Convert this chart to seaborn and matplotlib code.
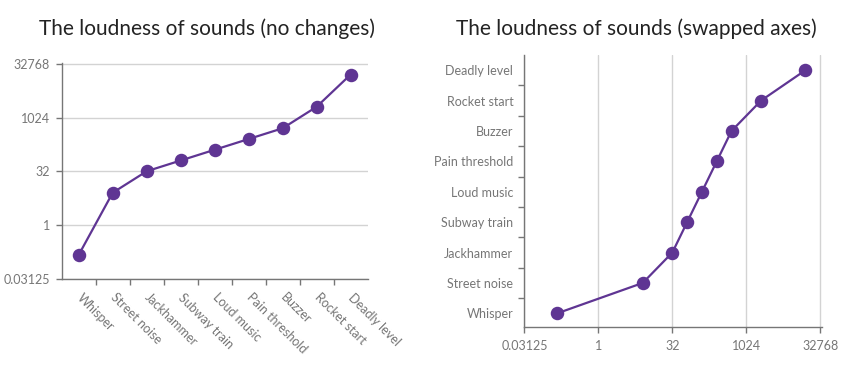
import numpy as np
import pandas as pd
import seaborn as sns
import matplotlib.pyplot as plt

sounds = ['Whisper', 'Street noise', 'Jackhammer', 'Subway train', 'Loud music',
          'Pain threshold', 'Buzzer', 'Rocket start', 'Deadly level']
loudness = [0.145, 8, 32, 64, 128, 256, 512, 2048, 16384]
log_ticks = [0.03125, 1, 32, 1024, 32768]
log_labels = ['0.03125', '1', '32', '1024', '32768']

LINE = '#5f3593'
GRAY = '#767676'
GRID = '#d3d3d3'

sns.set_style('white')
plt.rcParams['font.family'] = ['Lato', 'DejaVu Sans']

df = pd.DataFrame({'sound': sounds, 'value': loudness})

fig = plt.figure(figsize=(8.57, 3.89), dpi=100)
ax1 = fig.add_axes([0.072, 0.2835, 0.357, 0.5545])
ax2 = fig.add_axes([0.612, 0.1594, 0.347, 0.6992])


def style_axes(ax):
    for side in ['top', 'right']:
        ax.spines[side].set_visible(False)
    for side in ['left', 'bottom']:
        ax.spines[side].set_color(GRAY)
        ax.spines[side].set_linewidth(1)
    ax.tick_params(which='both', bottom=True, left=True, colors=GRAY,
                   labelcolor=GRAY, labelsize=9, length=4.5, width=1)


# no changes: sounds along x, loudness on a log2 y axis
ax1.set_yscale('log', base=2)
sns.pointplot(data=df, x='sound', y='value', color=LINE, markersize=8.5,
              linewidth=1.6, ax=ax1)
ax1.set_ylim(0.03125, 32768 * 1.05)
ax1.set_xlim(-0.5, len(sounds) - 0.5)
ax1.set_yticks(log_ticks, log_labels)
ax1.yaxis.set_minor_locator(plt.NullLocator())
ax1.set_xticks(np.arange(len(sounds)), sounds)
ax1.set_xticks(np.arange(len(sounds) - 1) + 0.5, minor=True)
style_axes(ax1)
ax1.tick_params(axis='x', which='major', length=0, pad=12)
ax1.tick_params(axis='y', pad=4)
for lbl in ax1.get_xticklabels():
    lbl.set_rotation(-45)
    lbl.set_ha('left')
    lbl.set_va('center')
    lbl.set_rotation_mode('anchor')
ax1.grid(axis='y', color=GRID, linewidth=1)
ax1.set_axisbelow(True)
ax1.set_xlabel('')
ax1.set_ylabel('')

# swapped axes: loudness on a log2 x axis, sounds along y
ax2.set_xscale('log', base=2)
sns.pointplot(data=df, x='value', y='sound', orient='h', color=LINE,
              markersize=8.5, linewidth=1.6, ax=ax2)
ax2.set_xlim(0.03125, 32768 * 1.08)
ax2.set_ylim(-0.45, len(sounds) - 0.5)
ax2.set_xticks(log_ticks, log_labels)
ax2.xaxis.set_minor_locator(plt.NullLocator())
ax2.set_yticks(np.arange(len(sounds)), sounds)
ax2.set_yticks(np.arange(len(sounds) - 1) + 0.5, minor=True)
style_axes(ax2)
ax2.tick_params(axis='y', which='major', length=0, pad=8)
ax2.tick_params(axis='x', pad=5)
ax2.grid(axis='x', color=GRID, linewidth=1)
ax2.set_axisbelow(True)
ax2.set_xlabel('')
ax2.set_ylabel('')

fig.text(0.242, 0.925, 'The loudness of sounds (no changes)', ha='center',
         va='center', fontsize=15, color='#232323')
fig.text(0.743, 0.925, 'The loudness of sounds (swapped axes)', ha='center',
         va='center', fontsize=15, color='#232323')

fig.savefig('out.png', dpi=100)
